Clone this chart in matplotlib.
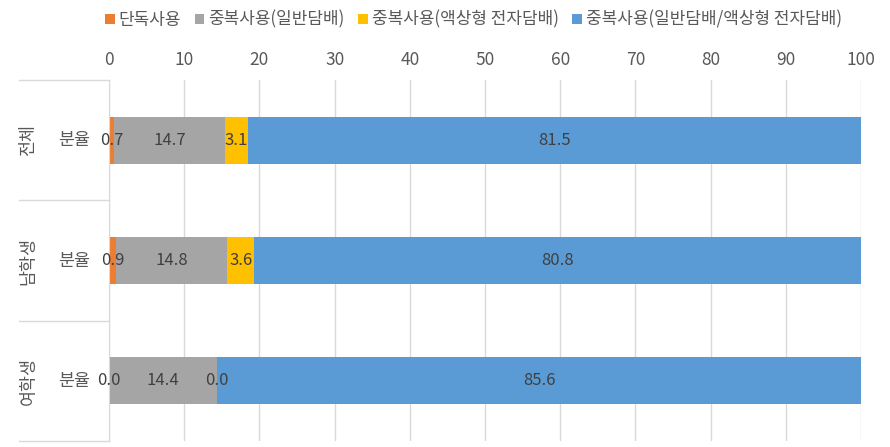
import numpy as np
import matplotlib.pyplot as plt
from matplotlib.transforms import blended_transform_factory

plt.rcParams['font.family'] = ['Noto Sans CJK KR', 'DejaVu Sans']

groups = ['전체', '남학생', '여학생']
sub_label = '분율'
series_names = ['단독사용', '중복사용(일반담배)', '중복사용(액상형 전자담배)',
                '중복사용(일반담배/액상형 전자담배)']
single_use = [0.7, 0.9, 0.0]
dual_cig = [14.7, 14.8, 14.4]
dual_liquid = [3.1, 3.6, 0.0]
dual_both = [81.5, 80.8, 85.6]
colors = ['#ED7D31', '#A5A5A5', '#FFC000', '#5B9BD5']


def main():
    fig = plt.figure(figsize=(8.9, 4.47), dpi=100)
    ax = fig.add_axes([0.1225, 0.0134, 0.845, 0.8076])

    series = [single_use, dual_cig, dual_liquid, dual_both]
    y = np.arange(len(groups))
    left = np.zeros(len(groups))
    for name, vals, c in zip(series_names, series, colors):
        vals = np.array(vals)
        ax.barh(y, vals, left=left, height=0.39, color=c, label=name, zorder=2)
        for yi, l, v in zip(y, left, vals):
            ax.text(l + v / 2, yi, f'{v:.1f}', ha='center', va='center',
                    fontsize=12, color='#404040', zorder=3)
        left = left + vals

    ax.set_xlim(0, 100)
    ax.set_ylim(len(groups) - 0.5, -0.5)
    ax.set_xticks(np.arange(0, 101, 10))
    ax.xaxis.tick_top()
    ax.tick_params(axis='x', length=0, labelsize=12.5, labelcolor='#595959', pad=8)
    ax.set_yticks([])
    ax.grid(axis='x', color='#D9D9D9', linewidth=1, zorder=0)
    for s in ['top', 'right', 'bottom']:
        ax.spines[s].set_visible(False)
    ax.spines['left'].set_color('#D9D9D9')

    # group labels and separators
    trans = blended_transform_factory(ax.transAxes, ax.transData)
    for i, g in enumerate(groups):
        ax.text(-0.046, i, sub_label, transform=trans, ha='center', va='center',
                fontsize=12.5, color='#595959')
        ax.text(-0.107, i, g, transform=trans, ha='center', va='center',
                rotation=90, fontsize=12.5, color='#595959')
    for b in np.arange(len(groups) + 1) - 0.5:
        ax.plot([-0.12, 0], [b, b], transform=trans, color='#D9D9D9',
                linewidth=1, clip_on=False)

    fig.legend(loc='upper center', bbox_to_anchor=(0.532, 1.01), ncol=4,
               frameon=False, fontsize=12.2, handlelength=0.55, handleheight=0.55,
               handletextpad=0.25, columnspacing=0.8, labelcolor='#595959')

    fig.savefig('out.png', dpi=100)


if __name__ == '__main__':
    main()
